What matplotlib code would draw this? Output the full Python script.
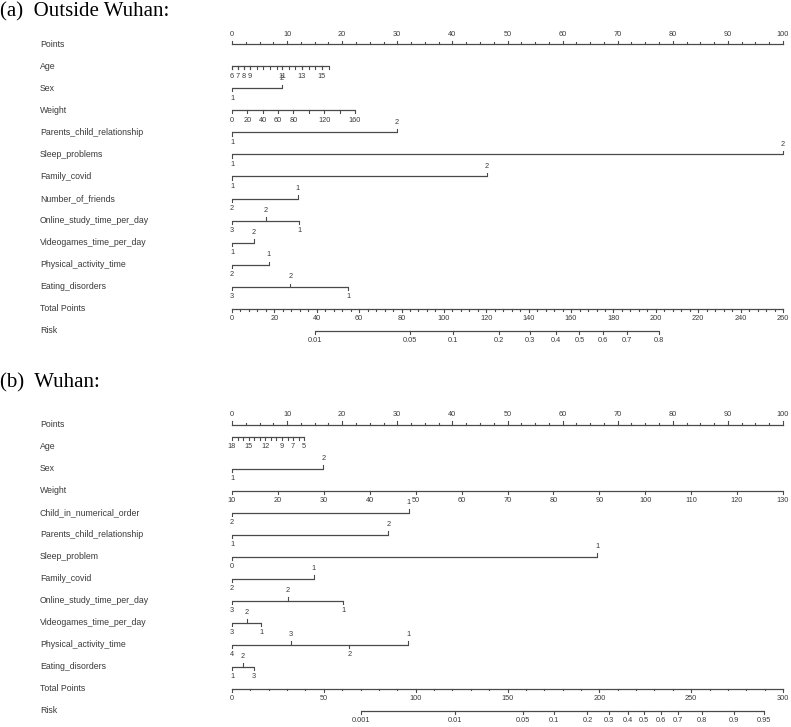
import matplotlib.pyplot as plt
import numpy as np

W, H = 791, 727

# ---------------- (a) Outside Wuhan ----------------
rows_a = ["Points", "Age", "Sex", "Weight", "Parents_child_relationship",
          "Sleep_problems", "Family_covid", "Number_of_friends",
          "Online_study_time_per_day", "Videogames_time_per_day",
          "Physical_activity_time", "Eating_disorders", "Total Points", "Risk"]

age_a_lab = ["6", "7", "8", "9", "11", "13", "15"]
age_a_pts = [0, 1.1, 2.2, 3.3, 9.1, 12.7, 16.3]
age_a_tick_pts = [0, 1.1, 2.2, 3.3, 4.5, 5.7, 6.9, 8.1, 9.1, 10.3, 11.5,
                  12.7, 13.9, 15.1, 16.3, 17.6]

weight_a_vals = [0, 20, 40, 60, 80, 100, 120, 140, 160]
weight_a_lab = ["0", "20", "40", "60", "80", "", "120", "", "160"]
weight_a_max_pts = 22.3

cat_a = {
    "Sex": (["1", "2"], [0, 9.1], [-1, 1]),
    "Parents_child_relationship": (["1", "2"], [0, 29.9], [-1, 1]),
    "Sleep_problems": (["1", "2"], [0, 100], [-1, 1]),
    "Family_covid": (["1", "2"], [0, 46.3], [-1, 1]),
    "Number_of_friends": (["2", "1"], [0, 11.9], [-1, 1]),
    "Online_study_time_per_day": (["3", "2", "1"], [0, 6.1, 12.2], [-1, 1, -1]),
    "Videogames_time_per_day": (["1", "2"], [0, 4.0], [-1, 1]),
    "Physical_activity_time": (["2", "1"], [0, 6.7], [-1, 1]),
    "Eating_disorders": (["3", "2", "1"], [0, 10.6, 21.1], [-1, 1, -1]),
}

total_a_max = 260
total_a_step, total_a_minor = 20, 4
risk_a_vals = [0.01, 0.05, 0.1, 0.2, 0.3, 0.4, 0.5, 0.6, 0.7, 0.8]
risk_a_total = [39.2, 84.0, 104.1, 126.1, 140.6, 152.7, 163.9, 175.0, 186.3, 201.5]

# ---------------- (b) Wuhan ----------------
rows_b = ["Points", "Age", "Sex", "Weight", "Child_in_numerical_order",
          "Parents_child_relationship", "Sleep_problem", "Family_covid",
          "Online_study_time_per_day", "Videogames_time_per_day",
          "Physical_activity_time", "Eating_disorders", "Total Points", "Risk"]

age_b_vals = list(range(18, 4, -1))
age_b_lab = ["18", "15", "12", "9", "7", "5"]
age_b_max_pts = 13.1

weight_b_vals = list(range(10, 131, 10))

cat_b = {
    "Sex": (["1", "2"], [0, 16.6], [-1, 1]),
    "Child_in_numerical_order": (["2", "1"], [0, 32.1], [-1, 1]),
    "Parents_child_relationship": (["1", "2"], [0, 28.4], [-1, 1]),
    "Sleep_problem": (["0", "1"], [0, 66.3], [-1, 1]),
    "Family_covid": (["2", "1"], [0, 14.8], [-1, 1]),
    "Online_study_time_per_day": (["3", "2", "1"], [0, 10.1, 20.2], [-1, 1, -1]),
    "Videogames_time_per_day": (["3", "2", "1"], [0, 2.7, 5.3], [-1, 1, -1]),
    "Physical_activity_time": (["4", "3", "2", "1"], [0, 10.7, 21.3, 32.0], [-1, 1, -1, 1]),
    "Eating_disorders": (["1", "2", "3"], [0, 2.0, 4.0], [-1, 1, -1]),
}

total_b_max = 300
total_b_step, total_b_minor = 50, 10
risk_b_vals = [0.001, 0.01, 0.05, 0.1, 0.2, 0.3, 0.4, 0.5, 0.6, 0.7, 0.8, 0.9, 0.95]
risk_b_total = [70.1, 121.6, 158.3, 175.3, 193.5, 205.4, 215.5, 224.3, 233.6,
                242.7, 255.7, 273.3, 289.8]

# ---------------- drawing ----------------
LINE = "#4a4a4a"
TXT = "#3a3a3a"
SANS = "Liberation Sans"
TICK_LEN = 0.14
LAB_OFF = 0.44
X0_PX, PX_PER_PT = 232, 5.51


def px2pt(x):
    return (x - X0_PX) / PX_PER_PT


def make_panel(fig, top_px, bot_px, row0_px, step_px):
    ax = fig.add_axes([0, 1 - bot_px / H, 1, (bot_px - top_px) / H])
    ax.set_xlim(px2pt(0), px2pt(W))
    ax.set_ylim((bot_px - row0_px) / step_px, (top_px - row0_px) / step_px)
    ax.axis("off")
    return ax


def draw_scale(ax, y, pts, labels, sides, extra=(), fs=5.3):
    allx = list(pts) + list(extra)
    ax.plot([min(allx), max(allx)], [y, y], color=LINE, lw=0.9,
            solid_capstyle="butt")
    for p, lab, s in zip(pts, labels, sides):
        ax.plot([p, p], [y, y - s * TICK_LEN], color=LINE, lw=0.8)
        if lab:
            ax.text(p, y - s * LAB_OFF, lab, ha="center", va="center",
                    fontsize=fs, color=TXT, family=SANS)
    for p in extra:
        ax.plot([p, p], [y, y + TICK_LEN], color=LINE, lw=0.8)


def draw_common(ax, rows, total_max, t_step, t_minor, risk_vals, risk_total):
    for i, name in enumerate(rows):
        ax.text(px2pt(40), i, name, ha="left", va="center", fontsize=6.3,
                color=TXT, family=SANS)
    # points axis (labels above)
    major = np.arange(0, 101, 10)
    minor = np.arange(0, 100.1, 2.5)
    ax.plot([0, 100], [0, 0], color=LINE, lw=0.9)
    for p in minor:
        ax.plot([p, p], [0, -TICK_LEN * (1.0 if p % 10 == 0 else 0.6)],
                color=LINE, lw=0.8)
    for p in major:
        ax.text(p, -LAB_OFF, f"{p:g}", ha="center", va="center", fontsize=5.3,
                color=TXT, family=SANS)
    # total points
    r = len(rows) - 2
    scale = 100 / total_max
    ax.plot([0, 100], [r, r], color=LINE, lw=0.9)
    for t in np.arange(0, total_max + 0.1, t_minor):
        big = t % t_step == 0
        ax.plot([t * scale] * 2, [r, r + TICK_LEN * (1.0 if big else 0.6)],
                color=LINE, lw=0.8)
    for t in np.arange(0, total_max + 0.1, t_step):
        ax.text(t * scale, r + LAB_OFF, f"{t:g}", ha="center", va="center",
                fontsize=5.3, color=TXT, family=SANS)
    # risk
    r = len(rows) - 1
    rp = [t * scale for t in risk_total]
    draw_scale(ax, r, rp, [f"{v:g}" for v in risk_vals], [-1] * len(rp))


fig = plt.figure(figsize=(W / 100, H / 100), dpi=100)

# panel a
ax = make_panel(fig, 0, 360, 44.3, 22.03)
draw_common(ax, rows_a, total_a_max, total_a_step, total_a_minor,
            risk_a_vals, risk_a_total)
draw_scale(ax, 1, age_a_pts, age_a_lab, [-1] * len(age_a_pts),
           extra=age_a_tick_pts)
wp = [w * weight_a_max_pts / 160 for w in weight_a_vals]
draw_scale(ax, 3, wp, weight_a_lab, [-1] * len(wp))
for name, (labs, pts, sides) in cat_a.items():
    draw_scale(ax, rows_a.index(name), pts, labs, sides)

# panel b
ax = make_panel(fig, 360, 727, 424.5, 22.0)
draw_common(ax, rows_b, total_b_max, total_b_step, total_b_minor,
            risk_b_vals, risk_b_total)
ap = [(18 - a) * age_b_max_pts / 13 for a in age_b_vals]
alab = [str(a) if str(a) in age_b_lab else "" for a in age_b_vals]
draw_scale(ax, 1 - 0.45, ap, alab, [-1] * len(ap))
wp = [(w - 10) * 100 / 120 for w in weight_b_vals]
draw_scale(ax, 3, wp, [str(w) for w in weight_b_vals], [-1] * len(wp))
for name, (labs, pts, sides) in cat_b.items():
    draw_scale(ax, rows_b.index(name), pts, labs, sides)

fig.text(0 / W, 1 - 12 / H, "(a)  Outside Wuhan:", ha="left", va="center",
         fontsize=15, family="Liberation Serif", color="black")
fig.text(0 / W, 1 - 383 / H, "(b)  Wuhan:", ha="left", va="center",
         fontsize=15, family="Liberation Serif", color="black")

fig.savefig("out.png", dpi=100)
